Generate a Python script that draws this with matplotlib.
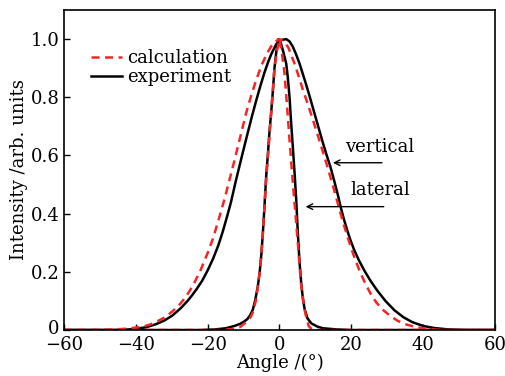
import matplotlib
matplotlib.use("Agg")
import matplotlib.pyplot as plt
from matplotlib.transforms import ScaledTranslation

plt.rcParams['font.family'] = ['DejaVu Serif']

# vertical (wide) - calculation
vcalc_x = [-60, -50, -46, -42, -38, -36, -34, -32, -30, -28, -26, -24, -22, -20, -18.5, -16.7,
           -15.2, -13.95, -12.7, -11.6, -10.4, -9.3, -7.9, -6.5, -5, -3.7, -2.5, -1.4, 0,
           1.4, 2.5, 4.2, 5.4, 6.5, 7.7, 8.85, 10.7, 12, 13.03, 14.9, 16.75, 17.7, 19, 20.5,
           22.3, 24, 25.5, 27, 29, 31, 33, 35, 38, 41, 44, 47, 60]
vcalc_y = [0.0, 0.0, 0.002, 0.005, 0.012, 0.019, 0.03, 0.043, 0.062, 0.085, 0.115, 0.155,
           0.205, 0.265, 0.315, 0.39, 0.455, 0.515, 0.575, 0.63, 0.69, 0.745, 0.805, 0.859,
           0.91, 0.945, 0.972, 0.99, 1.0,
           0.99, 0.97, 0.915, 0.87, 0.826, 0.783, 0.74, 0.668, 0.616, 0.574, 0.495, 0.412,
           0.37, 0.318, 0.262, 0.203, 0.157, 0.122, 0.094, 0.067, 0.047, 0.031, 0.02, 0.01,
           0.004, 0.001, 0.0, 0.0]

# vertical (wide) - experiment
vexp_x = [-60, -46, -43, -40, -37, -34.4, -32, -29.8, -27.5, -25.6, -24.3, -23, -21.5, -20,
          -18.5, -17, -15.8, -14.6, -13.5, -12.3, -11.16, -10, -8.84, -7.7, -6.5, -5.3, -4.18,
          -3.2, -2.3, -0.9, 0.5, 1.87,
          2.8, 3.71, 4.6, 5.58, 6.5, 7.44, 8.4, 9.3, 10.2, 11.17, 12.1, 13.03, 14.2, 15.3,
          16.3, 17.2, 18.0, 18.8, 19.7, 20.8, 22.1, 23.6, 25.3, 27.2, 29.5, 32, 34.5, 37,
          40, 43, 47, 52, 60]
vexp_y = [0.0, 0.0, 0.001, 0.004, 0.01, 0.02, 0.033, 0.05, 0.075, 0.10, 0.12, 0.142, 0.17,
          0.205, 0.245, 0.292, 0.338, 0.39, 0.44, 0.505, 0.563, 0.621, 0.678, 0.733, 0.788,
          0.84, 0.885, 0.92, 0.948, 0.983, 0.997, 1.0,
          0.992, 0.974, 0.948, 0.916, 0.88, 0.843, 0.803, 0.764, 0.725, 0.683, 0.643, 0.605,
          0.56, 0.51, 0.462, 0.415, 0.378, 0.345, 0.311, 0.275, 0.24, 0.205, 0.17, 0.136,
          0.1, 0.068, 0.044, 0.027, 0.014, 0.007, 0.002, 0.0, 0.0]

# lateral (narrow) - calculation
lcalc_x = [-60, -16, -13, -11, -10, -9, -8, -7.3, -6.6, -6, -5.4, -4.8, -4.3, -3.7, -3.2,
           -2.3, -1.4, -0.7, 0, 0.7, 1.4, 2.1, 2.8, 3.5, 4.2, 4.7, 5.1, 5.6, 6, 6.5, 7, 7.6,
           8.2, 9, 10, 60]
lcalc_y = [0.0, 0.0, 0.004, 0.01, 0.02, 0.03, 0.045, 0.065, 0.1, 0.15, 0.21, 0.3, 0.4,
           0.52, 0.6, 0.75, 0.9, 0.96, 1.0, 0.95, 0.882, 0.77, 0.653, 0.54, 0.435, 0.36,
           0.3, 0.22, 0.16, 0.11, 0.07, 0.035, 0.012, 0.003, 0.0, 0.0]

# lateral (narrow) - experiment
lexp_x = [-60, -22, -18, -15, -12.5, -11, -10, -9, -8.2, -7.45, -6.8, -6.05, -5.5, -5.05,
          -4.65, -4.2, -3.7, -3.26, -2.8, -2.3, -1.85, -1.4, -0.9, -0.3,
          0.4, 1.1, 1.87, 2.3, 2.8, 3.2, 3.71, 4.2, 4.65, 5.1, 5.55, 6.05, 6.5, 7, 7.8,
          8.85, 10.5, 12.1, 16, 20, 60]
lexp_y = [0.0, 0.0, 0.002, 0.006, 0.014, 0.021, 0.028, 0.037, 0.05, 0.069, 0.1, 0.149, 0.2,
          0.26, 0.33, 0.42, 0.53, 0.6, 0.68, 0.75, 0.82, 0.9, 0.955, 1.0,
          0.985, 0.955, 0.916, 0.87, 0.8, 0.72, 0.63, 0.54, 0.45, 0.335, 0.24, 0.16, 0.11,
          0.072, 0.04, 0.023, 0.012, 0.006, 0.002, 0.0, 0.0]

xticks = [-60, -40, -20, 0, 20, 40, 60]
xticklabels = ['\u221260', '\u221240', '\u221220', '0', '20', '40', '60']
yticks = [0, 0.2, 0.4, 0.6, 0.8, 1.0]
yticklabels = ['0', '0.2', '0.4', '0.6', '0.8', '1.0']

red = '#f52525'
fs = 13

fig = plt.figure(figsize=(5.06, 3.76), dpi=100)
ax = fig.add_axes([0.1265, 0.1223, 0.8517, 0.8511])

ax.plot(vexp_x, vexp_y, color='black', lw=1.8, label='experiment')
ax.plot(lexp_x, lexp_y, color='black', lw=1.8)
ax.plot(vcalc_x, vcalc_y, color=red, lw=1.8, dashes=(3.2, 2.2), label='calculation')
ax.plot(lcalc_x, lcalc_y, color=red, lw=1.8, dashes=(3.2, 2.2))

ax.set_xlim(-60, 60)
ax.set_ylim(0, 1.1)
ax.set_xticks(xticks)
ax.set_xticklabels(xticklabels)
ax.set_yticks(yticks)
ax.set_yticklabels(yticklabels)
ax.tick_params(direction='in', length=4, width=1, labelsize=fs)
ax.tick_params(axis='x', pad=4)
ax.tick_params(axis='y', pad=3)
for s in ax.spines.values():
    s.set_linewidth(1.2)

# nudge the y "0" label up slightly so it does not touch the "-60" label
zero_lbl = ax.get_yticklabels()[0]
zero_lbl.set_transform(zero_lbl.get_transform() + ScaledTranslation(0, 2.5 / 72, fig.dpi_scale_trans))

ax.set_xlabel('Angle /(\u00b0)', fontsize=fs, labelpad=0)
ax.set_ylabel('Intensity /arb. units', fontsize=fs, labelpad=2)

h, l = ax.get_legend_handles_labels()
ax.legend([h[1], h[0]], [l[1], l[0]], loc='upper left', bbox_to_anchor=(0.045, 0.9),
          frameon=False, fontsize=fs, handlelength=1.75, handletextpad=0.25,
          labelspacing=0.05, borderaxespad=0)

ax.annotate('', xy=(14.1, 0.575), xytext=(29.3, 0.575),
            arrowprops=dict(arrowstyle='->', color='black', lw=1))
ax.text(28, 0.63, 'vertical', fontsize=fs, ha='center', va='center')
ax.annotate('', xy=(6.5, 0.424), xytext=(29.8, 0.424),
            arrowprops=dict(arrowstyle='->', color='black', lw=1))
ax.text(28, 0.48, 'lateral', fontsize=fs, ha='center', va='center')

fig.savefig('out.png', dpi=100)
